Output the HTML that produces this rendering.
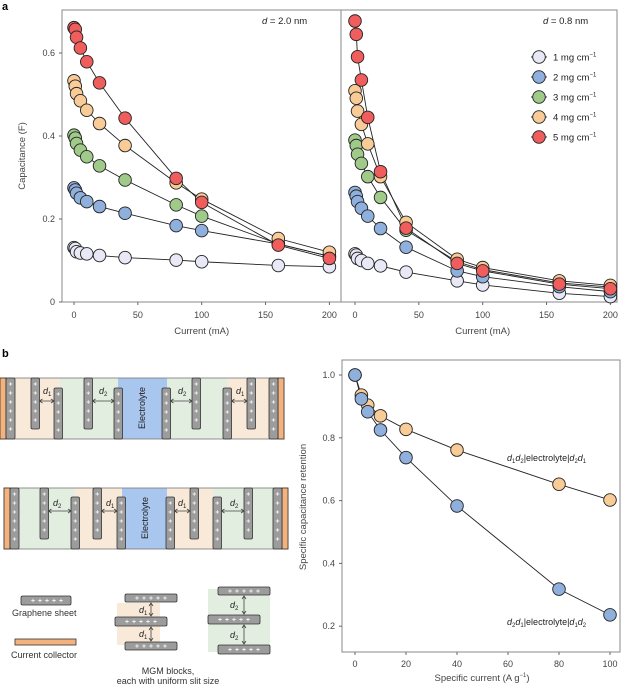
<!DOCTYPE html>
<html><head><meta charset="utf-8">
<style>
html,body{margin:0;padding:0;background:#fff;}
svg{display:block;font-family:"Liberation Sans",sans-serif;}
</style></head>
<body>
<svg id="fig" width="624" height="685" viewBox="0 0 624 685" xmlns="http://www.w3.org/2000/svg">
  <text x="2" y="10" font-size="11" font-weight="bold" fill="#000">a</text>
  <text x="2" y="357" font-size="11" font-weight="bold" fill="#000">b</text>
  <g id="diagram"></g>
  <g id="chartA"></g>
  <g id="chartB"></g>
</svg>
<script>
// ===== Panel a data =====
const currentsA = [0, 1, 2, 5, 10, 20, 40, 80, 100, 160, 200];
const seriesNames = ["1 mg cm", "2 mg cm", "3 mg cm", "4 mg cm", "5 mg cm"];
const left1 = [0.131, 0.129, 0.121, 0.118, 0.116, 0.112, 0.107, 0.101, 0.097, 0.088, 0.085];
const left2 = [0.275, 0.270, 0.262, 0.251, 0.242, 0.230, 0.214, 0.184, 0.172, 0.140, 0.110];
const left3 = [0.402, 0.395, 0.382, 0.366, 0.350, 0.328, 0.294, 0.234, 0.207, 0.140, 0.110];
const left4 = [0.533, 0.520, 0.502, 0.485, 0.462, 0.430, 0.377, 0.287, 0.248, 0.153, 0.120];
const left5 = [0.661, 0.657, 0.638, 0.612, 0.579, 0.528, 0.443, 0.298, 0.240, 0.137, 0.105];
const right1 = [0.116, 0.113, 0.105, 0.100, 0.093, 0.087, 0.072, 0.051, 0.041, 0.021, 0.013];
const right2 = [0.264, 0.255, 0.242, 0.226, 0.207, 0.177, 0.132, 0.075, 0.061, 0.037, 0.025];
const right3 = [0.390, 0.377, 0.356, 0.334, 0.302, 0.252, 0.173, 0.097, 0.078, 0.046, 0.036];
const right4 = [0.509, 0.491, 0.460, 0.428, 0.381, 0.302, 0.192, 0.103, 0.083, 0.051, 0.040];
const right5 = [0.677, 0.645, 0.591, 0.535, 0.445, 0.314, 0.178, 0.093, 0.075, 0.043, 0.032];
const yTicksA = [0, 0.2, 0.4, 0.6];
const yTickLabelsA = ["0", "0.2", "0.4", "0.6"];
const xTicksA = [0, 50, 100, 150, 200];
// ===== Panel b data =====
const currentsB = [0, 2.5, 5, 10, 20, 40, 80, 100];
const retentionOrange = [1.0, 0.936, 0.904, 0.870, 0.827, 0.761, 0.652, 0.602];
const retentionBlue = [1.0, 0.924, 0.883, 0.825, 0.737, 0.583, 0.318, 0.236];
const yTicksB = [0.2, 0.4, 0.6, 0.8, 1.0];
const yTickLabelsB = ["0.2", "0.4", "0.6", "0.8", "1.0"];
const xTicksB = [0, 20, 40, 60, 80, 100];

const colors = ["#e8e8f6", "#8fb0dc", "#9fca8a", "#f9cb97", "#ef5d5d"];
const NS = "http://www.w3.org/2000/svg";
function mk(tag, attrs, parent) {
  const e = document.createElementNS(NS, tag);
  for (const k in attrs) e.setAttribute(k, attrs[k]);
  parent.appendChild(e);
  return e;
}

// ===== Panel a =====
const gA = document.getElementById("chartA");
const yA = v => 302 - v * 415;
const panels = [
  { x0: 62, x1: 341, zero: 74, data: [left1, left2, left3, left4, left5], label: "2.0", lx: 262 },
  { x0: 341, x1: 617, zero: 355, data: [right1, right2, right3, right4, right5], label: "0.8", lx: 543 }
];
panels.forEach((p, pi) => {
  const xA = v => p.zero + v * 1.277;
  const frame = mk("rect", { x: p.x0, y: 10, width: p.x1 - p.x0, height: 292, fill: "none", stroke: "#888", "stroke-width": 1 }, gA);
  
  
  xTicksA.forEach(t => {
    const tk = mk("line", { x1: xA(t), x2: xA(t), y1: 302, y2: 305, stroke: "#666" }, gA);
    
    
    const tl = mk("text", { x: xA(t), y: 318, "font-size": 9, fill: "#444", "text-anchor": "middle" }, gA);
    tl.textContent = t;
    
    
  });
  const xt = mk("text", { x: xA(100), y: 334, "font-size": 9.5, fill: "#444", "text-anchor": "middle" }, gA);
  xt.textContent = "Current (mA)";
  
  
  const dl = mk("text", { x: p.lx, y: 24, "font-size": 9.5, fill: "#222" }, gA);
  dl.innerHTML = '<tspan font-style="italic">d</tspan> = ' + p.label + ' nm';
  
  
  p.data.forEach((vals, si) => {
    const pts = vals.map((v, i) => xA(currentsA[i]) + "," + yA(v)).join(" ");
    const ln = mk("polyline", { points: pts, fill: "none", stroke: "#222", "stroke-width": 0.9 }, gA);
    
    
  });
  p.data.forEach((vals, si) => {
    vals.forEach((v, i) => {
      const c = mk("circle", { cx: xA(currentsA[i]), cy: yA(v), r: 6.3, fill: colors[si], stroke: "#222", "stroke-width": 0.9 }, gA);
      
      
    });
  });
});
yTicksA.forEach((t, i) => {
  const tk = mk("line", { x1: 59, x2: 62, y1: yA(t), y2: yA(t), stroke: "#666" }, gA);
  
  
  const tl = mk("text", { x: 55, y: yA(t) + 3, "font-size": 9, fill: "#444", "text-anchor": "end" }, gA);
  tl.textContent = yTickLabelsA[i];
  
  
});
const ytA = mk("text", { x: 0, y: 0, "font-size": 9.5, fill: "#444", "text-anchor": "middle", transform: "translate(25,156) rotate(-90)" }, gA);
ytA.textContent = "Capacitance (F)";


seriesNames.forEach((n, i) => {
  const y = 57 + i * 20;
  const l = mk("line", { x1: 531, x2: 547, y1: y, y2: y, stroke: "#222", "stroke-width": 0.9 }, gA);
  
  
  const c = mk("circle", { cx: 539, cy: y, r: 6.3, fill: colors[i], stroke: "#222", "stroke-width": 0.9 }, gA);
  
  
  const t = mk("text", { x: 553, y: y + 3.5, "font-size": 9.5, fill: "#222" }, gA);
  t.innerHTML = n + '<tspan dy="-4" font-size="6">−1</tspan>';
  
  
});

// ===== Panel b chart =====
const gB = document.getElementById("chartB");
const xB = v => 355 + v * 2.55;
const yB = v => 375 + (1 - v) * 314;
const fB = mk("rect", { x: 342, y: 360, width: 278, height: 292, fill: "none", stroke: "#888", "stroke-width": 1 }, gB);


xTicksB.forEach(t => {
  const tk = mk("line", { x1: xB(t), x2: xB(t), y1: 652, y2: 655, stroke: "#666" }, gB);
  
  
  const tl = mk("text", { x: xB(t), y: 667, "font-size": 9, fill: "#444", "text-anchor": "middle" }, gB);
  tl.textContent = t;
  
  
});
yTicksB.forEach((t, i) => {
  const tk = mk("line", { x1: 339, x2: 342, y1: yB(t), y2: yB(t), stroke: "#666" }, gB);
  
  
  const tl = mk("text", { x: 335, y: yB(t) + 3, "font-size": 9, fill: "#444", "text-anchor": "end" }, gB);
  tl.textContent = yTickLabelsB[i];
  
  
});
const xtB = mk("text", { x: 482, y: 681, "font-size": 9.5, fill: "#444", "text-anchor": "middle" }, gB);
xtB.innerHTML = 'Specific current (A g<tspan dy="-4" font-size="6">−1</tspan><tspan dy="4">)</tspan>';


const ytB = mk("text", { x: 0, y: 0, "font-size": 9.5, fill: "#444", "text-anchor": "middle", transform: "translate(306,507) rotate(-90)" }, gB);
ytB.textContent = "Specific capacitance retention";


[[retentionOrange, colors[3]], [retentionBlue, colors[1]]].forEach(([vals, col]) => {
  const ln = mk("polyline", { points: vals.map((v, i) => xB(currentsB[i]) + "," + yB(v)).join(" "), fill: "none", stroke: "#222", "stroke-width": 0.9 }, gB);
  
  
});
[[retentionOrange, colors[3]], [retentionBlue, colors[1]]].forEach(([vals, col]) => {
  vals.forEach((v, i) => {
    const c = mk("circle", { cx: xB(currentsB[i]), cy: yB(v), r: 6.3, fill: col, stroke: "#222", "stroke-width": 0.9 }, gB);
    
    
  });
});
const lab1 = mk("text", { x: 507, y: 461, "font-size": 9, fill: "#222" }, gB);
lab1.innerHTML = '<tspan font-style="italic">d</tspan><tspan font-size="6" dy="2">1</tspan><tspan font-style="italic" dy="-2">d</tspan><tspan font-size="6" dy="2">2</tspan><tspan dy="-2">|electrolyte|</tspan><tspan font-style="italic">d</tspan><tspan font-size="6" dy="2">2</tspan><tspan font-style="italic" dy="-2">d</tspan><tspan font-size="6" dy="2">1</tspan>';


const lab2 = mk("text", { x: 507, y: 625, "font-size": 9, fill: "#222" }, gB);
lab2.innerHTML = '<tspan font-style="italic">d</tspan><tspan font-size="6" dy="2">2</tspan><tspan font-style="italic" dy="-2">d</tspan><tspan font-size="6" dy="2">1</tspan><tspan dy="-2">|electrolyte|</tspan><tspan font-style="italic">d</tspan><tspan font-size="6" dy="2">1</tspan><tspan font-style="italic" dy="-2">d</tspan><tspan font-size="6" dy="2">2</tspan>';



// ===== Diagram =====
const gD = document.getElementById("diagram");
const BEIGE = "#f8e9d8", GREEN = "#e2efe0", BLUE = "#a9c6ef", ORANGE = "#f3b27e";
function rect(x, y, w, h, fill, name, stroke) {
  const r = mk("rect", { x: x, y: y, width: w, height: h, fill: fill }, gD);
  if (stroke) { r.setAttribute("stroke", stroke); r.setAttribute("stroke-width", 0.8); }
  
  
  return r;
}
function sheetV(x, y, w, h) {
  const r = mk("rect", { x: x, y: y, width: w, height: h, rx: 1.5, fill: "#9c9c9c", stroke: "#333", "stroke-width": 0.8 }, gD);
  
  
  let d = "";
  for (let yy = y + 6; yy < y + h - 3; yy += 9) {
    const cx = x + w / 2;
    d += `M${cx - 1.8},${yy}H${cx + 1.8}M${cx},${yy - 1.8}V${yy + 1.8}`;
  }
  const pl = mk("path", { d: d, stroke: "#fff", "stroke-width": 0.7 }, gD);
  
  
}
function sheetH(x, y, w, h) {
  const r = mk("rect", { x: x, y: y, width: w, height: h, rx: 1.5, fill: "#9c9c9c", stroke: "#333", "stroke-width": 0.8 }, gD);
  
  
  let d = "";
  const cy = y + h / 2;
  for (let xx = x + 12; xx < x + w - 6; xx += 7) {
    d += `M${xx - 1.8},${cy}H${xx + 1.8}M${xx},${cy - 1.8}V${cy + 1.8}`;
  }
  const pl = mk("path", { d: d, stroke: "#fff", "stroke-width": 0.7 }, gD);
  
  
}
function arrow(x1, x2, y) {
  const a = mk("path", { d: `M${x1},${y}H${x2}M${x1 + 3},${y - 2}L${x1},${y}L${x1 + 3},${y + 2}M${x2 - 3},${y - 2}L${x2},${y}L${x2 - 3},${y + 2}`, stroke: "#444", "stroke-width": 0.8, fill: "none" }, gD);
  
  
}
function varrow(x, y1, y2) {
  const a = mk("path", { d: `M${x},${y1}V${y2}M${x - 2},${y1 + 3}L${x},${y1}L${x + 2},${y1 + 3}M${x - 2},${y2 - 3}L${x},${y2}L${x + 2},${y2 - 3}`, stroke: "#444", "stroke-width": 0.8, fill: "none" }, gD);
  
  
}
function dlabel(x, y, sub) {
  const t = mk("text", { x: x, y: y, "font-size": 9, fill: "#222" }, gD);
  t.innerHTML = '<tspan font-style="italic">d</tspan><tspan font-size="6" dy="2">' + sub + '</tspan>';
  
  
}
function electrolyte(cx, cy) {
  const t = mk("text", { x: 0, y: 0, "font-size": 9, fill: "#222", "text-anchor": "middle", transform: `translate(${cx},${cy}) rotate(-90)` }, gD);
  t.textContent = "Electrolyte";
  
  
}
// strip 1
rect(0, 378, 60, 61, BEIGE, 'slit-region-d1');
rect(60, 378, 58, 61, GREEN, 'slit-region-d2');
rect(118, 378, 49, 61, BLUE, 'electrolyte-region');
rect(167, 378, 60, 61, GREEN, 'slit-region-d2');
rect(227, 378, 50, 61, BEIGE, 'slit-region-d1');
mk("rect", { x: 0, y: 378, width: 284, height: 61, fill: "none", stroke: "#777", "stroke-width": 0.8 }, gD);
rect(0, 378, 6, 61, ORANGE, 'current-collector', "#333");
rect(278, 378, 6, 61, ORANGE, 'current-collector', "#333");
sheetV(6, 378, 9, 61); sheetV(269, 378, 9, 61);
[31, 84, 192, 247].forEach(x => sheetV(x, 378, 8.5, 51));
[54, 114, 162, 223].forEach(x => sheetV(x, 388, 8.5, 51));
arrow(39.5, 54, 401); arrow(92.5, 114, 401); arrow(170.5, 192, 401); arrow(231.5, 247, 401);
dlabel(43, 394, 1); dlabel(99, 394, 2); dlabel(178, 394, 2); dlabel(236, 394, 1);
electrolyte(145, 408);
// strip 2
rect(4, 488, 71, 61, GREEN, 'slit-region-d2');
rect(75, 488, 47, 61, BEIGE, 'slit-region-d1');
rect(122, 488, 45, 61, BLUE, 'electrolyte-region');
rect(167, 488, 46, 61, BEIGE, 'slit-region-d1');
rect(213, 488, 75, 61, GREEN, 'slit-region-d2');
mk("rect", { x: 4, y: 488, width: 284, height: 61, fill: "none", stroke: "#777", "stroke-width": 0.8 }, gD);
rect(4, 488, 6, 61, ORANGE, 'current-collector', "#333");
rect(282, 488, 6, 61, ORANGE, 'current-collector', "#333");
sheetV(10, 488, 9, 61); sheetV(273, 488, 9, 61);
[40, 93, 190, 244].forEach(x => sheetV(x, 488, 8.5, 51));
[71, 117, 166, 213].forEach(x => sheetV(x, 497, 8.5, 52));
arrow(48.5, 71, 511); arrow(101.5, 117, 511); arrow(174.5, 190, 511); arrow(221.5, 244, 511);
dlabel(53, 506, 2); dlabel(106, 506, 1); dlabel(178, 506, 1); dlabel(230, 506, 2);
electrolyte(148, 518);
// legend
sheetH(21, 596, 50, 9);
const gs = mk("text", { x: 12, y: 616, "font-size": 9, fill: "#333" }, gD);
gs.textContent = "Graphene sheet";


rect(15, 639, 61, 6, ORANGE, 'legend-current-collector', "#333");
const cc = mk("text", { x: 11, y: 658, "font-size": 9, fill: "#333" }, gD);
cc.textContent = "Current collector";


// MGM blocks
rect(117, 603, 43, 42, BEIGE, 'mgm-block-d1');
sheetH(125, 594, 52, 8); sheetH(115, 617, 52, 9); sheetH(125, 642, 52, 8);
varrow(151, 603, 616); varrow(151, 627, 641);
dlabel(139, 613, 1); dlabel(139, 637, 1);
rect(208, 589, 62, 63, GREEN, 'mgm-block-d2');
sheetH(218, 587, 52, 8); sheetH(208, 615, 52, 9); sheetH(218, 645, 52, 9);
varrow(244, 596, 614); varrow(244, 625, 644);
dlabel(230, 608, 2); dlabel(230, 638, 2);
const m1 = mk("text", { x: 168, y: 674, "font-size": 9, fill: "#333", "text-anchor": "middle" }, gD);
m1.textContent = "MGM blocks,";


const m2 = mk("text", { x: 168, y: 684, "font-size": 9, fill: "#333", "text-anchor": "middle" }, gD);
m2.textContent = "each with uniform slit size";


</script>
</body></html>
